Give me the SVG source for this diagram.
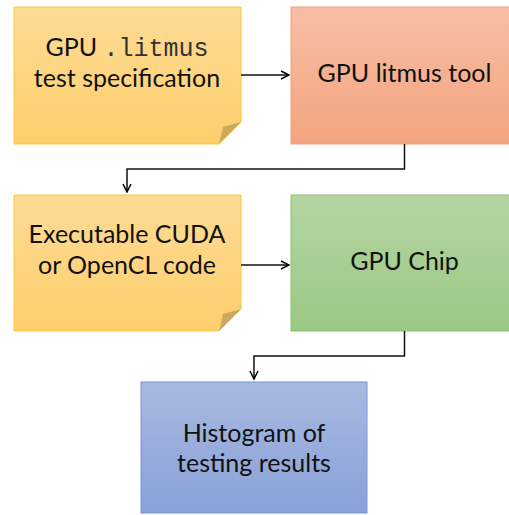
<svg xmlns="http://www.w3.org/2000/svg" width="509" height="515" viewBox="0 0 509 515">
<defs>
<linearGradient id="gY" x1="0" y1="0" x2="0" y2="1"><stop offset="0" stop-color="#fedb95"/><stop offset="1" stop-color="#fdcf6c"/></linearGradient>
<linearGradient id="gO" x1="0" y1="0" x2="0" y2="1"><stop offset="0" stop-color="#f7bea5"/><stop offset="1" stop-color="#f4a37e"/></linearGradient>
<linearGradient id="gG" x1="0" y1="0" x2="0" y2="1"><stop offset="0" stop-color="#b4d5a2"/><stop offset="1" stop-color="#9bc884"/></linearGradient>
<linearGradient id="gB" x1="0" y1="0" x2="0" y2="1"><stop offset="0" stop-color="#a9b9e1"/><stop offset="1" stop-color="#88a1d7"/></linearGradient>
<marker id="arr" viewBox="0 0 10 10" refX="9" refY="5" markerWidth="10" markerHeight="10" markerUnits="userSpaceOnUse" orient="auto">
<path d="M1,1 L9,5 L1,9" fill="none" stroke="#000" stroke-width="1.5"/>
</marker>
<style>
.t{font-family:Lato,"Liberation Sans",sans-serif;font-size:25px;fill:#111;text-anchor:middle}
.m{font-family:"Liberation Mono",monospace;font-size:25px;fill:#333}
.c{fill:none;stroke:#111;stroke-width:1.5}
.fold{fill:#cda95b}
</style>
</defs>
<g id="spec">
<path d="M14,7 H241 V122 L219,144 H14 Z" fill="url(#gY)" stroke="#f9c83c" stroke-width="1"/>
<path class="fold" d="M219,144 L223,127 L241,122 Z"/>
<text class="t" x="127" y="56">GPU <tspan class="m">.litmus</tspan></text>
<text class="t" x="127" y="87">test specification</text>
</g>
<g id="tool">
<rect x="291" y="7" width="227" height="137" fill="url(#gO)" stroke="#f09f78" stroke-width="1"/>
<text class="t" x="404.5" y="82">GPU litmus tool</text>
</g>
<g id="code">
<path d="M14,195 H241 V309 L219,331 H14 Z" fill="url(#gY)" stroke="#f9c83c" stroke-width="1"/>
<path class="fold" d="M219,331 L223,314 L241,309 Z"/>
<text class="t" x="127" y="243">Executable CUDA</text>
<text class="t" x="127" y="274">or OpenCL code</text>
</g>
<g id="chip">
<rect x="291" y="195" width="227" height="136" fill="url(#gG)" stroke="#8bbf6f" stroke-width="1"/>
<text class="t" x="404.5" y="270">GPU Chip</text>
</g>
<g id="histogram">
<rect x="141" y="382" width="226" height="131" fill="url(#gB)" stroke="#7994d5" stroke-width="1"/>
<text class="t" x="254" y="442">Histogram of</text>
<text class="t" x="254" y="472">testing results</text>
</g>
<g id="connectors">
<path class="c" d="M241,75 H289" marker-end="url(#arr)"/>
<path class="c" d="M404.5,144 V169 H127 V192" marker-end="url(#arr)"/>
<path class="c" d="M241,265 H289" marker-end="url(#arr)"/>
<path class="c" d="M404.5,331 V356 H254 V379" marker-end="url(#arr)"/>
</g>
</svg>
